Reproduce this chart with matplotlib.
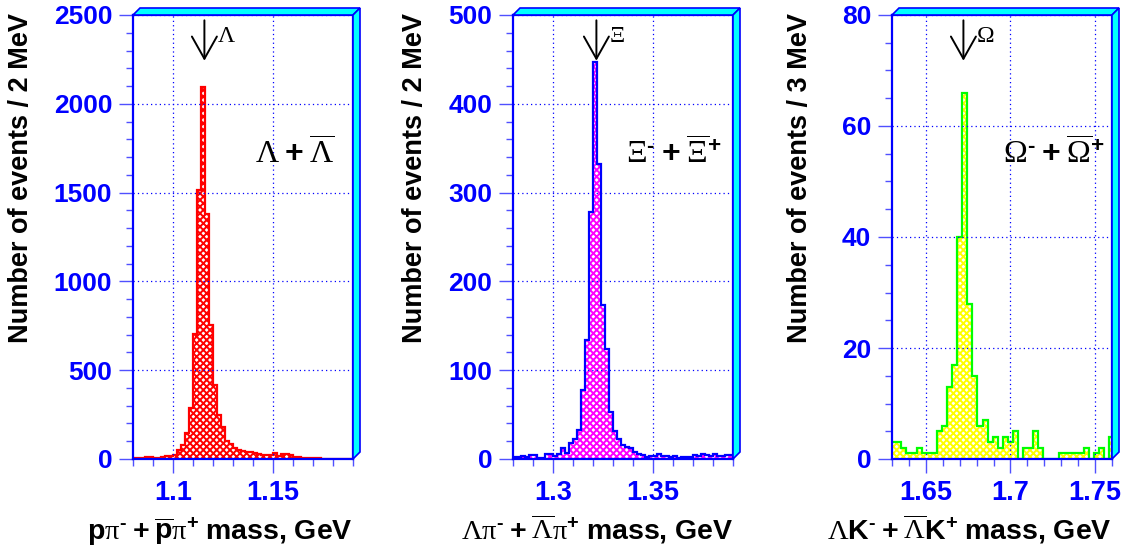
import matplotlib.pyplot as plt
import matplotlib.transforms as mtransforms
import numpy as np
from matplotlib.patches import Polygon
from matplotlib.ticker import MultipleLocator

plt.rcParams.update({
    'font.family': 'Liberation Sans',
    'font.weight': 'bold',
    'mathtext.fontset': 'custom',
    'mathtext.rm': 'Liberation Serif:weight=normal',
    'mathtext.it': 'Liberation Serif:italic:weight=normal',
    'mathtext.bf': 'Liberation Sans:bold',
    'hatch.linewidth': 1.4,
})

# Lambda + anti-Lambda, 2 MeV bins
lam_start, lam_width = 1.080, 0.002
lam_counts = [4, 3, 4, 10, 11, 6, 6, 12, 15, 17,
              20, 53, 77, 146, 285, 705, 1512, 2093, 1382, 754,
              414, 250, 178, 99, 85, 60, 48, 43, 42, 40,
              31, 30, 22, 21, 22, 34, 19, 30, 30, 21,
              11, 10, 4, 3, 4, 3, 3, 2, 2, 0,
              0, 0, 0, 0, 0]

# Xi- + anti-Xi+, 2 MeV bins
xi_start, xi_width = 1.280, 0.002
xi_counts = [2, 2, 3, 2, 4, 4, 1, 1, 6, 6,
             3, 6, 12, 7, 18, 22, 33, 78, 134, 278,
             447, 332, 173, 124, 53, 31, 23, 16, 13, 12,
             8, 6, 4, 2, 3, 3, 6, 3, 3, 2,
             3, 1, 2, 2, 2, 5, 3, 6, 5, 3,
             6, 3, 3, 4, 4]

# Omega- + anti-Omega+, 3 MeV bins
om_start, om_width = 1.6295, 0.003
om_counts = [3, 3, 2, 1, 1, 2, 1, 1, 1,
             5, 6, 13, 17, 40, 66, 28, 15,
             6, 7, 3, 4, 2, 4, 3, 5,
             0, 2, 2, 5, 2, 0, 0, 0, 1, 1, 1, 1, 1, 2, 0, 1, 2, 0, 4]

lam_xticks = [1.1, 1.15]
xi_xticks = [1.3, 1.35]
om_xticks = [1.65, 1.7, 1.75]

lam_mass, xi_mass, om_mass = 1.1157, 1.3217, 1.6722

MINUS = '\u2010'   # short hyphen, as in the original superscripts
PLUS = r'\;\mathbf{+}\;'

panels = [
    dict(start=lam_start, width=lam_width, counts=lam_counts, xlim=(1.08, 1.19),
         ylim=(0, 2500), ymaj=500, ymin=100, xticks=lam_xticks,
         fill='red', line='red', mass=lam_mass,
         name=r'$\mathrm{\Lambda}$',
         big=r'$\mathrm{\Lambda}P\overline{\mathrm{\Lambda}}$', big_x=0.918,
         ylabel='Number of events / 2 MeV', ylab_x=-0.51,
         xlabel=r'$\mathbf{p}\mathrm{\pi}^{\mathbf{M}}P\overline{\mathbf{p}}'
                r'\mathrm{\pi}^{\mathbf{+}}\mathbf{\ mass,\,GeV}$'),
    dict(start=xi_start, width=xi_width, counts=xi_counts, xlim=(1.28, 1.39),
         ylim=(0, 500), ymaj=100, ymin=20, xticks=xi_xticks,
         fill='magenta', line='blue', mass=xi_mass,
         name=r'$\mathrm{\Xi}$',
         big=r'$\mathrm{\Xi}^{\mathbf{M}}P\overline{\mathrm{\Xi}}^{\mathbf{+}}$', big_x=0.95,
         ylabel='Number of events / 2 MeV', ylab_x=-0.445,
         xlabel=r'$\mathrm{\Lambda\pi}^{\mathbf{M}}P\overline{\mathrm{\Lambda}}'
                r'\mathrm{\pi}^{\mathbf{+}}\mathbf{\ mass,\,GeV}$'),
    dict(start=om_start, width=om_width, counts=om_counts, xlim=(1.63, 1.76),
         ylim=(0, 80), ymaj=20, ymin=5, xticks=om_xticks,
         fill='#ffff00', line='#00ff00', mass=om_mass,
         name=r'$\mathrm{\Omega}$',
         big=r'$\mathrm{\Omega}^{\mathbf{M}}P\overline{\mathrm{\Omega}}^{\mathbf{+}}$', big_x=0.968,
         ylabel='Number of events / 3 MeV', ylab_x=-0.42,
         xlabel=r'$\mathrm{\Lambda}\mathbf{K}^{\mathbf{M}}P\overline{\mathrm{\Lambda}}'
                r'\mathbf{K}^{\mathbf{+}}\mathbf{\ mass,\,GeV}$'),
]


def fmt(s):
    return s.replace('{M}', '{' + MINUS + '}').replace('P', PLUS)


W, H = 1131, 555
fig = plt.figure(figsize=(W / 100, H / 100), dpi=100)
lefts = [133, 513, 892]
ax_w, ax_top, ax_bot = 220, 15, 459

for p, left in zip(panels, lefts):
    ax = fig.add_axes([left / W, (H - ax_bot) / H, ax_w / W, (ax_bot - ax_top) / H])
    edges = p['start'] + p['width'] * np.arange(len(p['counts']) + 1)
    ax.stairs(p['counts'], edges, fill=True, facecolor='white',
              edgecolor=p['fill'], hatch='xxxxx', lw=0)
    ax.stairs(p['counts'], edges, color=p['line'], lw=1.6)

    ax.set_xlim(*p['xlim'])
    ax.set_ylim(*p['ylim'])
    ax.set_xticks(p['xticks'])
    ax.set_xticklabels([f'{t:g}' for t in p['xticks']])
    ax.xaxis.set_minor_locator(MultipleLocator(0.01))
    ax.yaxis.set_major_locator(MultipleLocator(p['ymaj']))
    ax.yaxis.set_minor_locator(MultipleLocator(p['ymin']))
    ax.grid(True, which='major', color='blue', ls=(0, (1, 2.5)), lw=0.9)

    ax.tick_params(which='both', direction='out', color='#5050ff', labelcolor='blue', width=1)
    ax.tick_params(which='major', length=10)
    ax.tick_params(which='minor', length=5)
    ax.tick_params(axis='x', labelsize=19.5, pad=5)
    ax.tick_params(axis='y', labelsize=19, pad=5)
    for lab in ax.get_xticklabels() + ax.get_yticklabels():
        lab.set_fontweight('bold')
    for s in ax.spines.values():
        s.set_color('blue')
        s.set_linewidth(1.6)

    blend = mtransforms.blended_transform_factory(ax.transData, ax.transAxes)
    ax.annotate('', xy=(p['mass'], 0.897), xycoords=blend,
                xytext=(p['mass'], 0.988), textcoords=blend,
                arrowprops=dict(arrowstyle='->,head_length=0.8,head_width=0.45',
                                lw=1.4, color='black', mutation_scale=20,
                                shrinkA=0, shrinkB=0))
    ax.annotate(p['name'], xy=(p['mass'], 0.94), xycoords=blend,
                xytext=(9, 0), textcoords='offset points', fontsize=17, va='baseline')
    ax.text(p['big_x'], 0.664, fmt(p['big']), transform=ax.transAxes,
            fontsize=23, ha='right', va='baseline')

    ax.text(p['ylab_x'], 1.004, p['ylabel'], transform=ax.transAxes, rotation=90,
            rotation_mode='anchor', ha='right', va='center', fontsize=19.5, fontweight='bold')
    ax.text(1.0, -0.182, fmt(p['xlabel']), transform=ax.transAxes,
            ha='right', va='baseline', fontsize=20.5)

    # ROOT-style 3D frame on top and right side
    pos = ax.get_position()
    dx, dy = 7 / W, 7 / H
    top = [(pos.x0, pos.y1), (pos.x0 + dx, pos.y1 + dy), (pos.x1 + dx, pos.y1 + dy), (pos.x1, pos.y1)]
    right = [(pos.x1, pos.y0), (pos.x1 + dx, pos.y0 + dy), (pos.x1 + dx, pos.y1 + dy), (pos.x1, pos.y1)]
    for poly in (top, right):
        fig.add_artist(Polygon(poly, closed=True, transform=fig.transFigure,
                               facecolor='cyan', edgecolor='blue', lw=1.2))

fig.savefig('out.png', dpi=100, facecolor='white')
